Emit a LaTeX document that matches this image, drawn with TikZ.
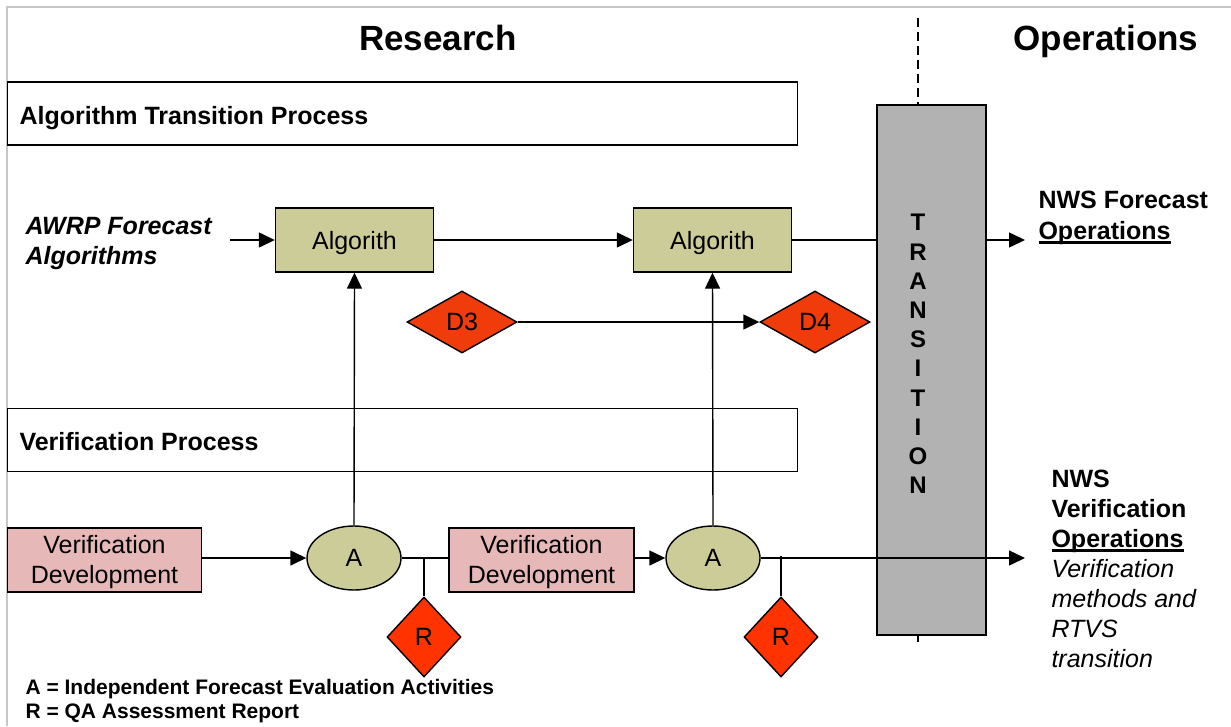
\documentclass[tikz,border=0pt]{standalone}
\usepackage{fontspec}
\setmainfont{Liberation Sans}
\usetikzlibrary{arrows.meta,shapes.geometric}
\definecolor{khaki}{RGB}{204,204,153}
\definecolor{pinkbox}{RGB}{230,185,184}
\definecolor{dred}{RGB}{240,60,10}
\definecolor{rred}{RGB}{255,51,0}
\definecolor{tgray}{RGB}{178,178,178}
\newcommand\myul[1]{\leavevmode\setbox0\hbox{#1}\rlap{\rule[-4pt]{\wd0}{2.2pt}}\box0}
\tikzset{
  fs/.style={font=\fontsize{25}{30}\selectfont},
  procbox/.style={draw, line width=1.4pt, fill=white, minimum height=63pt, anchor=west, text depth=0pt},
  algbox/.style={draw, line width=1.4pt, fill=khaki, minimum width=158pt, minimum height=64pt, fs, text depth=0pt},
  vdbox/.style={draw, line width=1.4pt, fill=pinkbox, minimum height=64pt, fs, align=center, inner sep=0pt},
  aell/.style={draw, ellipse, line width=1.4pt, fill=khaki, minimum width=94pt, minimum height=64pt, fs, inner sep=0pt},
  ddia/.style={draw, diamond, line width=1.4pt, fill=dred, minimum width=110pt, minimum height=62pt, inner sep=0pt, fs},
  rdia/.style={draw, diamond, line width=1.4pt, fill=rred, minimum width=74pt, minimum height=80pt, inner sep=0pt, fs},
  arr/.style={line width=1.4pt, -{Triangle[length=16pt,width=15pt]}},
  ln/.style={line width=1.4pt},
}
\begin{document}
\begin{tikzpicture}[x=1pt,y=-1pt]
\useasboundingbox (0,0) rectangle (1231,726);
\fill[white] (0,0) rectangle (1231,726);
\draw[line width=1.5pt, black!22] (7,726) -- (7,7) -- (1231,7);

% headers
\node[font=\fontsize{35}{40}\selectfont\bfseries] (research) at (438,38) {Research};
\node[font=\fontsize{35}{40}\selectfont\bfseries] (operations) at (1106,41) {Operations};

% process boxes
\node[procbox, minimum width=790pt] (atp) at (7,113.5) {};
\node[anchor=west, font=\fontsize{25}{30}\selectfont\bfseries] (atptext) at (16,118) {Algorithm Transition Process};
\node[procbox, minimum width=790pt] (vp) at (7,440) {};
\node[anchor=west, font=\fontsize{25}{30}\selectfont\bfseries] (vptext) at (16,442) {Verification Process};

% transition box
\node[draw, line width=1.4pt, fill=tgray, minimum width=109pt, minimum height=530pt, inner sep=0pt] (trans) at (931.5,370) {};
\node[font=\fontsize{24}{29.2}\selectfont\bfseries, align=center] (translbl) at (918,354) {T\\R\\A\\N\\S\\I\\T\\I\\O\\N};
\coordinate (dtop) at (918,18);
\coordinate (dbot) at (918,642);
\draw[line width=1.4pt, dash pattern=on 9pt off 5pt] (dtop) -- (dtop |- trans.north);
\draw[ln] (dbot |- trans.south) -- (dbot);

% algorithm row
\node[algbox] (alg1) at (354.5,240) {Algorith};
\node[algbox] (alg2) at (712.5,240) {Algorith};
\node[anchor=west, align=left, font=\fontsize{25}{30}\selectfont\bfseries\itshape] (awrp) at (22,243) {AWRP Forecast\\Algorithms};
\coordinate (awrpend) at (230,240);
\coordinate (fcop) at (1025,240);
\draw[arr] (awrpend) -- (alg1.west);
\draw[arr] (alg1.east) -- (alg2.west);
\draw[ln] (alg2.east) -- (alg2.east -| trans.west);
\draw[arr] (alg2.east -| trans.east) -- (fcop);
\node[anchor=west, align=left, font=\fontsize{25}{31}\selectfont\bfseries] (nwsf) at (1035,218) {NWS Forecast\\\myul{Operations}};

% diamonds D3 D4
\node[ddia] (d3) at (462,322) {D3};
\node[ddia] (d4) at (815,322) {D4};
\draw[arr] (d3.east) -- (d4.west);

% verification row
\node[vdbox, minimum width=194pt] (vd1) at (104.5,560) {};
\node[fs, align=center] (vd1t) at (104.5,562) {Verification\\Development};
\node[aell] (a1) at (354,558) {A};
\node[vdbox, minimum width=185pt] (vd2) at (541.5,560) {};
\node[fs, align=center] (vd2t) at (541.5,562) {Verification\\Development};
\node[aell] (a2) at (713,558) {A};
\node[rdia] (r1) at (424,637) {R};
\node[rdia] (r2) at (781,637) {R};
\coordinate (j1) at (424,558);
\coordinate (j2) at (781,556);
\coordinate (vop) at (1025,558);

\draw[arr] (a1.north) -- (alg1.south);
\draw[arr] (a2.north) -- (alg2.south);
\draw[arr] (vd1.east |- a1) -- (a1.west);
\draw[ln] (a1.east) -- (vd2.west |- a1);
\draw[ln] (j1) -- (r1.north);
\draw[arr] (vd2.east |- a2) -- (a2.west);
\draw[arr] (a2.east) -- (vop);
\draw[ln] (j2) -- (r2.north);

\node[anchor=west, align=left, font=\fontsize{25}{30}\selectfont] (nwsv) at (1048,569)
 {\bfseries NWS\\\bfseries Verification\\\bfseries\myul{Operations}\\\itshape Verification\\\itshape methods and\\\itshape RTVS\\\itshape transition};

% legend
\node[anchor=west, align=left, font=\fontsize{21}{24}\selectfont\bfseries] (legend) at (22,701)
 {A = Independent Forecast Evaluation Activities\\R = QA Assessment Report};
\end{tikzpicture}
\end{document}
